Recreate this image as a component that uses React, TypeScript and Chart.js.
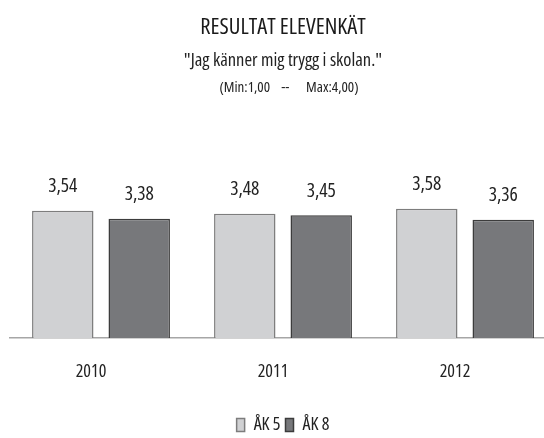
import React, { useEffect, useRef } from "react";
import { Chart, registerables } from "chart.js";

Chart.register(...registerables);

const categories = ["2010", "2011", "2012"];
const seriesNames = ["ÅK 5", "ÅK 8"];
const ak5Values = [3.54, 3.48, 3.58];
const ak8Values = [3.38, 3.45, 3.36];
const titleText = "RESULTAT ELEVENKÄT";
const subtitleText = "\"Jag känner mig trygg i skolan.\"";
const rangeText = "(Min:1,00    --      Max:4,00)";
const yMin = 1;
const yMax = 4;

const FONT = "'Open Sans', 'DejaVu Sans Condensed', sans-serif";
const COND = "normal condensed";
const TEXT = "#222222";

const fmt = (v: number) => v.toFixed(2).replace(".", ",");

const valueLabels = {
  id: "valueLabels",
  afterDatasetsDraw(chart: any) {
    const ctx = chart.ctx;
    ctx.save();
    ctx.font = `${COND} 19.5px ${FONT}`;
    ctx.fillStyle = TEXT;
    ctx.textAlign = "center";
    ctx.textBaseline = "alphabetic";
    chart.data.datasets.forEach((ds: any, i: number) => {
      const meta = chart.getDatasetMeta(i);
      meta.data.forEach((el: any, j: number) => {
        ctx.fillText(fmt(ds.data[j]), el.x, el.y - 18.5);
      });
    });
    ctx.restore();
  },
};

const rangeLine = {
  id: "rangeLine",
  afterDraw(chart: any) {
    const ctx = chart.ctx;
    const { left, right } = chart.chartArea;
    ctx.save();
    ctx.font = `${COND} 15px ${FONT}`;
    ctx.fillStyle = TEXT;
    ctx.textAlign = "center";
    ctx.textBaseline = "middle";
    ctx.fillText(rangeText, (left + right) / 2 + 6, 88);
    ctx.restore();
  },
};

export default function App() {
  const ref = useRef<HTMLCanvasElement | null>(null);

  useEffect(() => {
    document.body.style.overflow = "hidden";
    const canvas = ref.current;
    if (!canvas) return;
    const chart = new Chart(canvas, {
      type: "bar",
      data: {
        labels: categories,
        datasets: [
          {
            label: seriesNames[0],
            data: ak5Values,
            backgroundColor: "#d0d1d3",
            borderColor: "#7d7d7d",
            borderWidth: 1.5,
            categoryPercentage: 0.84,
            barPercentage: 0.804,
          },
          {
            label: seriesNames[1],
            data: ak8Values,
            backgroundColor: "#77787b",
            borderColor: "#3c3c3c",
            borderWidth: 1.5,
            categoryPercentage: 0.84,
            barPercentage: 0.804,
          },
        ],
      },
      options: {
        responsive: false,
        animation: false,
        devicePixelRatio: 1,
        layout: { padding: { left: 10, right: 10, top: 0, bottom: 0 } },
        scales: {
          x: {
            grid: { display: false, drawTicks: false },
            border: { display: true, color: "#a6a6a6", width: 1.5 },
            ticks: {
              padding: 23,
              labelOffset: -10,
              color: TEXT,
              font: { size: 18, family: FONT, weight: COND },
            },
            afterFit: (s: any) => {
              s.height = 73;
            },
          },
          y: { display: false, min: yMin, max: yMax },
        },
        plugins: {
          title: {
            display: true,
            text: titleText,
            color: "#1a1a1a",
            font: { size: 22.5, family: FONT, weight: "500 condensed" },
            padding: { top: 13.6, bottom: 8.6 },
          },
          subtitle: {
            display: true,
            text: subtitleText,
            color: TEXT,
            font: { size: 18.5, family: FONT, weight: COND },
            padding: { top: 0, bottom: 116.3 },
          },
          legend: {
            position: "bottom",
            labels: {
              boxWidth: 8,
              boxHeight: 13,
              padding: 5,
              color: TEXT,
              font: { size: 18, family: FONT, weight: COND },
            },
          },
          tooltip: { enabled: false },
        },
      },
      plugins: [valueLabels, rangeLine],
    } as any);
    return () => chart.destroy();
  }, []);

  return (
    <div style={{ position: "fixed", left: 0, top: 0, width: 544, height: 438, overflow: "hidden", background: "#fff" }}>
      <canvas ref={ref} width={566} height={444} style={{ display: "block" }} />
    </div>
  );
}
